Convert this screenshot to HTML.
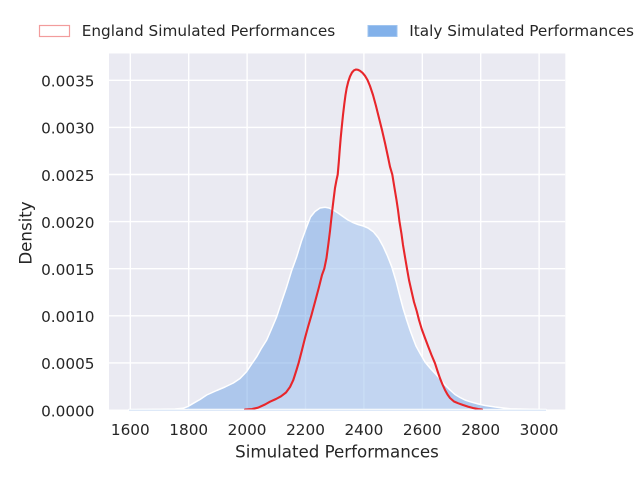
<!DOCTYPE html>
<html>
<head>
<meta charset="utf-8">
<style>
html,body{margin:0;padding:0;background:#ffffff;}
svg{display:block;}
text{font-family:"DejaVu Sans","Liberation Sans",sans-serif;fill:#262626;}
</style>
</head>
<body>
<svg width="640" height="480" viewBox="0 0 640 480" xmlns="http://www.w3.org/2000/svg">
<rect x="0" y="0" width="640" height="480" fill="#ffffff"/>
<defs>
<clipPath id="ax"><rect x="109" y="53.5" width="456.3" height="356"/></clipPath>
</defs>
<!-- axes background -->
<rect x="109" y="53.5" width="456.3" height="356" fill="#eaeaf2"/>
<!-- grid -->
<g stroke="#ffffff" stroke-width="1.4" clip-path="url(#ax)">
<line x1="130.3" y1="53.5" x2="130.3" y2="409.5"/>
<line x1="188.7" y1="53.5" x2="188.7" y2="409.5"/>
<line x1="247.1" y1="53.5" x2="247.1" y2="409.5"/>
<line x1="305.5" y1="53.5" x2="305.5" y2="409.5"/>
<line x1="363.9" y1="53.5" x2="363.9" y2="409.5"/>
<line x1="422.3" y1="53.5" x2="422.3" y2="409.5"/>
<line x1="480.7" y1="53.5" x2="480.7" y2="409.5"/>
<line x1="539.1" y1="53.5" x2="539.1" y2="409.5"/>
<line x1="109" y1="362.9" x2="565.3" y2="362.9"/>
<line x1="109" y1="315.8" x2="565.3" y2="315.8"/>
<line x1="109" y1="268.7" x2="565.3" y2="268.7"/>
<line x1="109" y1="221.6" x2="565.3" y2="221.6"/>
<line x1="109" y1="174.5" x2="565.3" y2="174.5"/>
<line x1="109" y1="127.4" x2="565.3" y2="127.4"/>
<line x1="109" y1="80.3" x2="565.3" y2="80.3"/>
</g>
<!-- Italy fill -->
<g clip-path="url(#ax)">
<path fill="rgb(112,164,230)" fill-opacity="0.5" stroke="#ffffff" stroke-width="1.5" stroke-linejoin="round"
d="M129,409.5 L160,409.3 L175,409 L183,408.3 L188,406.5 L193.3,403.3 L200,399.5 L206.7,395 L216.7,390.5 L225,387 L233.3,383 L240,378.5 L246.7,371.5 L251,365 L256.7,356.7 L261,349 L266.7,340 L271.5,329 L276.7,316.7 L281.5,302 L286.7,286.7 L291.5,271 L296.7,256.7 L301.5,241 L306.7,226.7 L310.5,217 L315,211.5 L320,208 L325,207.3 L329,208 L333.3,210 L338,213 L343.3,216.7 L348,220 L353.3,222.7 L358,224.5 L363.3,226 L368,228 L373.3,231.7 L378.5,238 L383.3,246.7 L387.5,256 L391.7,266.7 L396,281 L400,296.7 L403.3,309 L406.7,320 L410,330 L413.3,339 L416,346 L420,353.3 L425,362 L430,368 L435,373.3 L440,379 L445,385 L450,390 L455,394.5 L460,397.5 L465,400 L470,401.7 L478.3,404 L485,405.5 L495,407 L510,408.7 L530,409.2 L546,409.5 Z"/>
</g>
<line x1="129" y1="410.2" x2="546" y2="410.2" stroke="#d4e2f5" stroke-width="1"/>
<!-- England fill (white translucent) + line -->
<g clip-path="url(#ax)">
<path fill="#ffffff" fill-opacity="0.26" stroke="none"
d="M245,409.5 L252,409 L258,407.7 L265,404.5 L270,401.7 L276,399 L281,396.3 L286,392.5 L290,387 L293.3,380 L296.5,370 L298.7,362.7 L302,350 L305,338 L308,327 L311.3,315.7 L315,302 L319,287 L322,275 L324.3,268.7 L326.5,258 L328.5,243 L330,231 L331,221.7 L332.3,210 L333.5,200 L335,188 L336.5,180 L337.7,174.6 L338.8,162 L339.7,150 L340.7,138 L341.7,127.6 L343,115 L344.3,104 L345.5,95 L346.7,88 L348.3,81.5 L350,76.5 L352,72.5 L354,70.3 L356,69.5 L358,69.8 L360,70.8 L362.5,72.8 L365,75.8 L367.5,80 L370,86 L373,95 L376,106 L379,118 L382,130 L385,143 L388,157 L390,166.7 L392.3,174.6 L394.5,188 L396.5,200 L398,210 L399.5,221.7 L401.5,234 L403,245 L405,257 L407,268.7 L409,280 L411.7,292 L414,302 L416.7,311 L419,320 L421.7,329 L425,338 L428.3,346.7 L431.5,355 L435,363.3 L437.5,371 L440,378.3 L442.5,384.5 L445,390 L447.5,394.5 L450,398 L454,401.5 L458.3,403.3 L463,405 L468.3,406.7 L473,408 L478.3,409 L482,409.5 Z"/>
<path fill="none" stroke="#e8262b" stroke-width="2.1" stroke-linejoin="round" stroke-linecap="round"
d="M245,409.5 L252,409 L258,407.7 L265,404.5 L270,401.7 L276,399 L281,396.3 L286,392.5 L290,387 L293.3,380 L296.5,370 L298.7,362.7 L302,350 L305,338 L308,327 L311.3,315.7 L315,302 L319,287 L322,275 L324.3,268.7 L326.5,258 L328.5,243 L330,231 L331,221.7 L332.3,210 L333.5,200 L335,188 L336.5,180 L337.7,174.6 L338.8,162 L339.7,150 L340.7,138 L341.7,127.6 L343,115 L344.3,104 L345.5,95 L346.7,88 L348.3,81.5 L350,76.5 L352,72.5 L354,70.3 L356,69.5 L358,69.8 L360,70.8 L362.5,72.8 L365,75.8 L367.5,80 L370,86 L373,95 L376,106 L379,118 L382,130 L385,143 L388,157 L390,166.7 L392.3,174.6 L394.5,188 L396.5,200 L398,210 L399.5,221.7 L401.5,234 L403,245 L405,257 L407,268.7 L409,280 L411.7,292 L414,302 L416.7,311 L419,320 L421.7,329 L425,338 L428.3,346.7 L431.5,355 L435,363.3 L437.5,371 L440,378.3 L442.5,384.5 L445,390 L447.5,394.5 L450,398 L454,401.5 L458.3,403.3 L463,405 L468.3,406.7 L473,408 L478.3,409 L482,409.5"/>
</g>
<!-- y tick labels -->
<g font-size="15.28" text-anchor="end">
<text x="94.5" y="416.3">0.0000</text>
<text x="94.5" y="369.2">0.0005</text>
<text x="94.5" y="322.1">0.0010</text>
<text x="94.5" y="275">0.0015</text>
<text x="94.5" y="227.9">0.0020</text>
<text x="94.5" y="180.8">0.0025</text>
<text x="94.5" y="133.7">0.0030</text>
<text x="94.5" y="86.6">0.0035</text>
</g>
<!-- x tick labels -->
<g font-size="15.28" text-anchor="middle">
<text x="130.3" y="435">1600</text>
<text x="188.7" y="435">1800</text>
<text x="247.1" y="435">2000</text>
<text x="305.5" y="435">2200</text>
<text x="363.9" y="435">2400</text>
<text x="422.3" y="435">2600</text>
<text x="480.7" y="435">2800</text>
<text x="539.1" y="435">3000</text>
</g>
<!-- axis labels -->
<text x="337" y="457.3" font-size="16.67" text-anchor="middle">Simulated Performances</text>
<text transform="translate(31.5,233) rotate(-90)" x="0" y="0" font-size="16.67" text-anchor="middle">Density</text>
<!-- legend -->
<rect x="39.5" y="25.5" width="30" height="11" fill="#ffffff" stroke="#f29c9c" stroke-width="1.2"/>
<text x="81.7" y="36" font-size="15.28">England Simulated Performances</text>
<rect x="368" y="25.5" width="29" height="11" fill="#82b1ea" stroke="#9fc4ef" stroke-width="1"/>
<text x="409.3" y="36" font-size="15.28">Italy Simulated Performances</text>
</svg>
</body>
</html>
